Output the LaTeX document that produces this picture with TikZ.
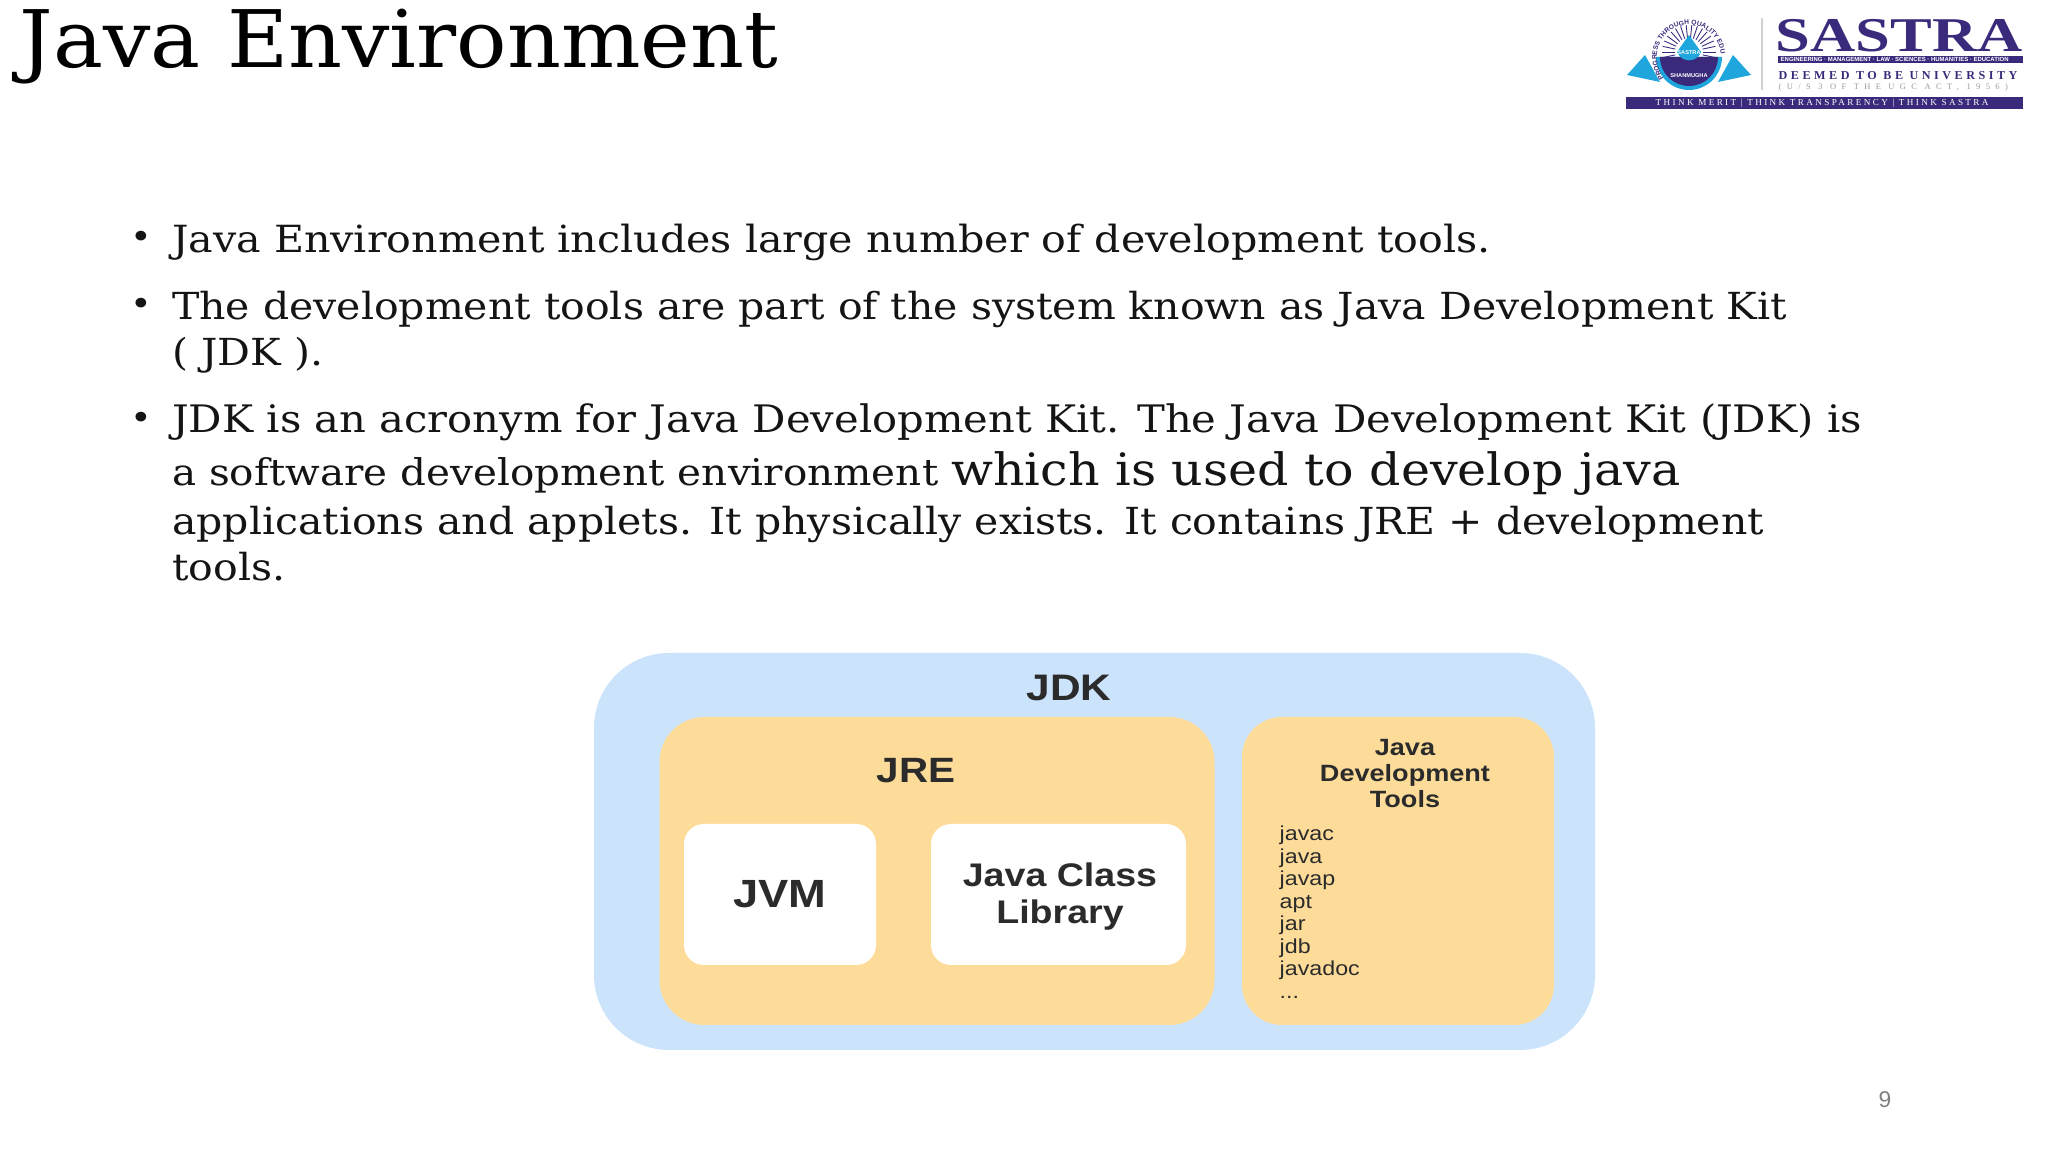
\documentclass[tikz,border=0pt]{standalone}
\usepackage{fontspec}
\usetikzlibrary{decorations.text}
\setmainfont[FakeStretch=1.10]{DejaVu Serif}
\newfontfamily\titlefont[FakeStretch=1.056]{DejaVu Serif}
\newfontfamily\boxfont[FakeStretch=1.15]{Liberation Sans}
\newfontfamily\logosans{Liberation Sans}
\newfontfamily\logoname[FakeStretch=1.29]{Liberation Serif}
\newfontfamily\logodeemed[LetterSpace=29]{Liberation Serif}
\newfontfamily\logoact[LetterSpace=64]{Liberation Serif}
\newfontfamily\logomotto[LetterSpace=26]{Liberation Serif}
\definecolor{jdkblue}{HTML}{CCE3FC}
\definecolor{jreorange}{HTML}{FDDC9A}
\definecolor{boxtext}{HTML}{2B2B2B}
\definecolor{logopurple}{HTML}{3B2A7C}
\definecolor{logoblue}{HTML}{1FA6DD}

\begin{document}
\begin{tikzpicture}[
        panel/.style={inner sep=0, rounded corners=#1},
        bodyline/.style={anchor=base west, inner sep=0, text=black!92, font=\fontsize{10.6}{12}\selectfont},
        bulletmark/.style={anchor=base, inner sep=0, text=black!92, font=\fontsize{9.5}{12}\selectfont},
        boxlabel/.style={inner sep=0, text=boxtext, align=center, font=\boxfont\bfseries\fontsize{#1}{#1}\selectfont},
        logoline/.style={anchor=base west, inner sep=0}
    ]
    \useasboundingbox (0, 0) rectangle (20.48, 11.52);

    \node[anchor=base west, inner sep=0, text=black, font=\titlefont\fontsize{22.6}{24}\selectfont] (title) at (0.19, 10.84) {Java Environment};

    \node[bulletmark] (b1) at (1.41, 9.03) {•};
    \node[bulletmark] (b2) at (1.41, 8.36) {•};
    \node[bulletmark] (b3) at (1.41, 7.22) {•};
    \node[bodyline, font=\fontsize{10.65}{12}\selectfont] (l1) at (1.715, 8.996) {Java Environment includes large number of development tools.};
    \node[bodyline] (l2) at (1.715, 8.326) {The development tools are part of the system known as Java Development Kit};
    \node[bodyline] (l3) at (1.715, 7.86) {( JDK ).};
    \node[bodyline, font=\fontsize{10.78}{12}\selectfont] (l4) at (1.715, 7.19) {JDK is an acronym for Java Development Kit. The Java Development Kit (JDK) is};
    \node[bodyline] (l5) at (1.715, 6.66) {{\fontsize{10.47}{12}\selectfont a software development environment} {\fontsize{12.7}{12}\selectfont which is used to develop java}};
    \node[bodyline] (l6) at (1.715, 6.17) {applications and applets. It physically exists. It contains JRE + development};
    \node[bodyline] (l7) at (1.715, 5.71) {tools.};

    \node[panel=0.75cm, fill=jdkblue, minimum width=10.01cm, minimum height=3.97cm] (jdk) at (10.945, 3.005) {};
    \node[panel=0.45cm, fill=jreorange, minimum width=5.55cm, minimum height=3.08cm] (jre) at (9.37, 2.81) {};
    \node[panel=0.40cm, fill=jreorange, minimum width=3.12cm, minimum height=3.08cm] (tools) at (13.98, 2.81) {};
    \node[panel=0.20cm, fill=white, minimum width=1.92cm, minimum height=1.41cm] (jvm) at (7.80, 2.575) {};
    \node[panel=0.20cm, fill=white, minimum width=2.55cm, minimum height=1.41cm] (jcl) at (10.585, 2.575) {};

    \node[boxlabel=10.5] (jdktext) at (10.69, 4.64) {JDK};
    \node[boxlabel=10] (jretext) at (9.16, 3.81) {JRE};
    \node[boxlabel=11.2] (jvmtext) at (jvm) {JVM};
    \node[boxlabel=9.3] (jcltext) at (10.60, 2.55) {Java Class\\[1.2pt]Library};
    \node[boxlabel=6.7] (toolstext) at (14.05, 3.785) {Java\\[0.8pt]Development\\[0.8pt]Tools};
    \node[anchor=north west, inner sep=0, align=left, text=boxtext, font=\boxfont\fontsize{5.75}{6.4}\selectfont] (toolslist) at (12.79, 3.265)
        {javac\\java\\javap\\apt\\jar\\jdb\\javadoc\\...};

    \node[inner sep=0, text=black!50, font=\logosans\fontsize{6.5}{7}\selectfont] (page) at (18.85, 0.52) {9};

    \draw[black!18, line width=0.5pt] (17.62, 11.34) -- (17.62, 10.62);
    \fill[logopurple] (17.78, 10.89) rectangle (20.23, 10.96);
    \fill[logopurple] (16.26, 10.43) rectangle (20.23, 10.55);
    \node[logoline, text=logopurple, font=\logoname\bfseries\fontsize{13.8}{14}\selectfont] (sastra) at (17.75, 11.00) {SASTRA};
    \node[logoline, text=white, font=\logosans\bfseries\fontsize{1.7}{2}\selectfont] (streams) at (17.80, 10.905) {ENGINEERING · MANAGEMENT · LAW · SCIENCES · HUMANITIES · EDUCATION};
    \node[logoline, text=logopurple, font=\logodeemed\bfseries\fontsize{3.45}{4}\selectfont] (deemed) at (17.78, 10.72) {DEEMED TO BE UNIVERSITY};
    \node[logoline, text=black!40, font=\logoact\fontsize{2.4}{3}\selectfont] (act) at (17.78, 10.62) {(U/S 3 OF THE UGC ACT, 1956)};
    \node[logoline, text=white, font=\logomotto\fontsize{2.6}{3}\selectfont] (motto) at (16.55, 10.46) {THINK MERIT | THINK TRANSPARENCY | THINK SASTRA};

    \fill[logoblue] (16.27, 10.77) -- (16.45, 10.97) -- (16.60, 10.70) -- cycle;
    \fill[logoblue] (17.51, 10.77) -- (17.33, 10.97) -- (17.18, 10.70) -- cycle;
    \fill[logoblue] (16.56, 10.95) arc[start angle=180, end angle=360, radius=0.33] -- cycle;
    \fill[logopurple] (16.60, 10.95) arc[start angle=180, end angle=360, radius=0.29] -- cycle;
    \foreach \ang in {0, 12, ..., 348}
        \draw[logopurple, line width=0.25pt] (16.89, 11.00) ++(\ang:0.14) -- ++(\ang:0.13);
    \fill[logoblue] (16.89, 11.17) -- (16.77, 11.00) arc[start angle=200, end angle=340, radius=0.128] -- cycle;
    \node[inner sep=0, text=white, font=\logosans\bfseries\fontsize{1.6}{2}\selectfont] (seal) at (16.89, 10.99) {SASTRA};
    \node[inner sep=0, text=white, font=\logosans\bfseries\fontsize{1.6}{2}\selectfont] (shan) at (16.89, 10.76) {SHANMUGHA};
    \path[decorate, decoration={text along path, text align=center, text={|\logosans\bfseries\fontsize{1.9}{2}\selectfont\color{logopurple}|PROGRESS THROUGH QUALITY EDUCATION}}]
        (16.57, 10.98) arc[start angle=175, end angle=5, radius=0.32];
\end{tikzpicture}
\end{document}
